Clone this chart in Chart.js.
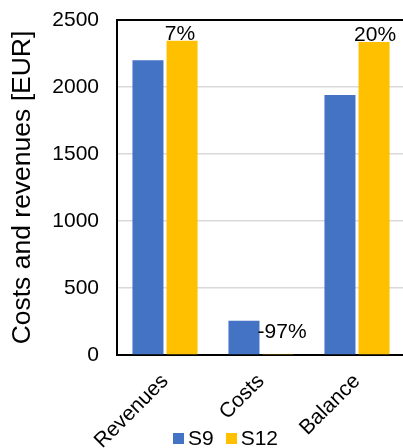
<!DOCTYPE html>
<html>
<head>
<meta charset="utf-8">
<script src="https://cdn.jsdelivr.net/npm/chart.js@4"></script>
<style>
  html, body { margin: 0; padding: 0; overflow: hidden; background: #fff; }
  #wrap { position: relative; width: 406px; height: 448px; }
  #legend { position: absolute; left: 173px; top: 426px; font: 21px "Liberation Sans", Arial, sans-serif; color: #000; white-space: nowrap; }
  #legend span.item { display: inline-block; margin-right: 12px; }
  #legend span.box { display: inline-block; width: 11px; height: 11px; margin-right: 4px; vertical-align: 1px; }
</style>
</head>
<body>
<div id="wrap">
  <canvas id="chart" width="406" height="448"></canvas>
  <div id="legend"></div>
</div>
<script>
const categories = ['Revenues', 'Costs', 'Balance'];
const seriesNames = ['S9', 'S12'];
const s9Values = [2200, 255, 1940];
const s12Values = [2345, 8, 2335];
const changeLabels = ['7%', '-97%', '20%'];
const yTicks = [0, 500, 1000, 1500, 2000, 2500];
const colors = ['#4472C4', '#FFC000'];

const FONT = '"Liberation Sans", Arial, sans-serif';

// percent change labels, drawn next to the S12 bars
const labelOffsets = [{ dx: -2, dy: -1 }, { dx: 4, dy: -16 }, { dx: 1, dy: -1 }];
const changeLabelPlugin = {
    id: 'changeLabels',
    afterDatasetsDraw(chart) {
        const ctx = chart.ctx;
        const meta = chart.getDatasetMeta(1);
        ctx.save();
        ctx.font = '21px ' + FONT;
        ctx.fillStyle = '#000';
        ctx.textAlign = 'center';
        ctx.textBaseline = 'alphabetic';
        meta.data.forEach((bar, i) => {
            const o = labelOffsets[i];
            ctx.fillText(changeLabels[i], bar.x + o.dx, bar.y + o.dy);
        });
        ctx.restore();
    }
};

new Chart(document.getElementById('chart').getContext('2d'), {
    type: 'bar',
    data: {
        labels: categories,
        datasets: [
            { label: seriesNames[0], data: s9Values, backgroundColor: colors[0] },
            { label: seriesNames[1], data: s12Values, backgroundColor: colors[1] }
        ]
    },
    options: {
        responsive: false,
        animation: false,
        layout: { padding: { top: 20, right: 1, left: 0, bottom: 0 } },
        datasets: { bar: { categoryPercentage: 0.71, barPercentage: 0.91 } },
        plugins: { legend: { display: false }, tooltip: { enabled: false } },
        scales: {
            x: {
                grid: { display: false },
                border: { color: '#000', width: 2 },
                ticks: { color: '#000', font: { family: FONT, size: 21 }, maxRotation: 45, minRotation: 45, padding: 6 },
                afterFit(scale) {
                    scale.height = 93;
                    scale.paddingTop = 0;
                    scale.paddingBottom = 0;
                }
            },
            y: {
                min: 0,
                max: yTicks[yTicks.length - 1],
                afterBuildTicks(scale) { scale.ticks = yTicks.map(v => ({ value: v })); },
                grid: {
                    drawTicks: false,
                    color: c => (c.tick.value === 2500 ? '#000' : '#d9d9d9'),
                    lineWidth: c => (c.tick.value === 2500 ? 2 : 1.5)
                },
                border: { color: '#000', width: 2 },
                ticks: { color: '#000', font: { family: FONT, size: 21 }, padding: 18, callback: v => String(v) },
                title: {
                    display: true,
                    text: 'Costs and revenues [EUR]',
                    color: '#000',
                    font: { family: FONT, size: 26.5 },
                    padding: { top: 7, bottom: 0 }
                },
                afterFit(scale) {
                    scale.width = 117;
                    scale.paddingTop = 0;
                    scale.paddingBottom = 0;
                }
            }
        }
    },
    plugins: [changeLabelPlugin]
});

const legend = document.getElementById('legend');
seriesNames.forEach((name, i) => {
    const item = document.createElement('span');
    item.className = 'item';
    const box = document.createElement('span');
    box.className = 'box';
    box.style.background = colors[i];
    item.appendChild(box);
    item.appendChild(document.createTextNode(name));
    legend.appendChild(item);
});
</script>
</body>
</html>
